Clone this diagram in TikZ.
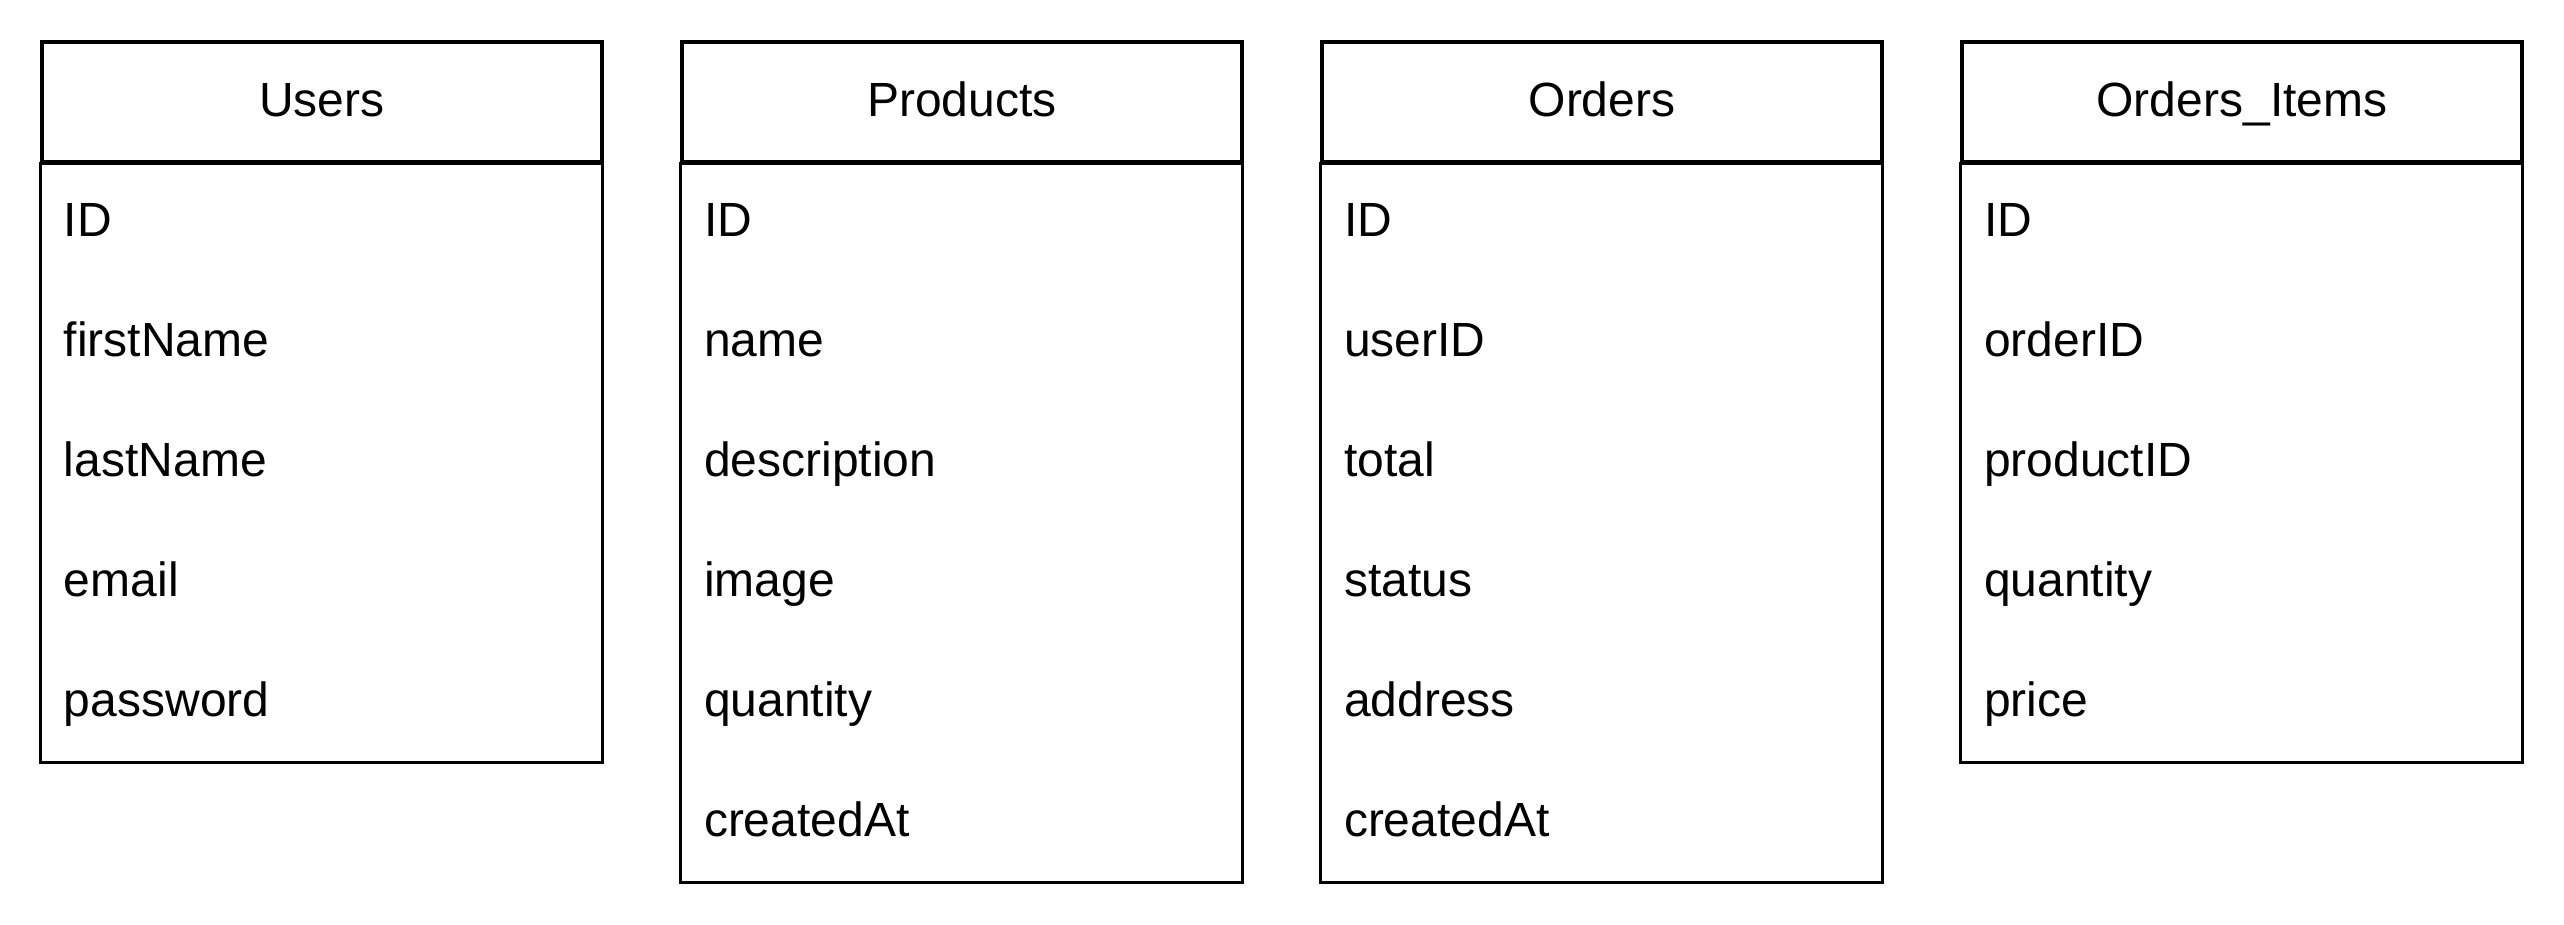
\documentclass[tikz,border=0pt]{standalone}
\usepackage{fontspec}
\setmainfont{Liberation Sans}
\usetikzlibrary{positioning}
\tikzstyle{table} = [rectangle, minimum width=140pt, minimum height=30pt, text centered, text height=7.4pt, text depth=0pt, draw=black, thick, font=\fontsize{12}{14.4}\selectfont]
\tikzstyle{field} = [rectangle, minimum width=140pt, minimum height=30pt, text width=129pt, inner xsep=5.5pt, align=left, text height=7.4pt, text depth=0pt, font=\fontsize{12}{14.4}\selectfont]
\tikzstyle{frame} = [thick, draw=black]
\begin{document}
\begin{tikzpicture}[node distance = 30pt, x=1pt, y=1pt]
        \useasboundingbox (-0.5,0.5) rectangle (640.5,-230.5);
        % table headers
        \node (users) [table] at (80,-25) {Users};
        \node (products) [table, right of = users, node distance = 160pt] {Products};
        \node (orders) [table, right of = products, node distance = 160pt] {Orders};
        \node (items) [table, right of = orders, node distance = 160pt] {Orders\_Items};

        % Users
        \node (usersId) [field, below of = users] {ID};
        \node (usersFirst) [field, below of = usersId] {firstName};
        \node (usersLast) [field, below of = usersFirst] {lastName};
        \node (usersEmail) [field, below of = usersLast] {email};
        \node (usersPass) [field, below of = usersEmail] {password};

        % Products
        \node (prodId) [field, below of = products] {ID};
        \node (prodName) [field, below of = prodId] {name};
        \node (prodDesc) [field, below of = prodName] {description};
        \node (prodImage) [field, below of = prodDesc] {image};
        \node (prodQty) [field, below of = prodImage] {quantity};
        \node (prodCreated) [field, below of = prodQty] {createdAt};

        % Orders
        \node (ordId) [field, below of = orders] {ID};
        \node (ordUser) [field, below of = ordId] {userID};
        \node (ordTotal) [field, below of = ordUser] {total};
        \node (ordStatus) [field, below of = ordTotal] {status};
        \node (ordAddress) [field, below of = ordStatus] {address};
        \node (ordCreated) [field, below of = ordAddress] {createdAt};

        % Orders_Items
        \node (itemId) [field, below of = items] {ID};
        \node (itemOrder) [field, below of = itemId] {orderID};
        \node (itemProduct) [field, below of = itemOrder] {productID};
        \node (itemQty) [field, below of = itemProduct] {quantity};
        \node (itemPrice) [field, below of = itemQty] {price};

        \draw [frame] (users.south west) rectangle (usersPass.south east);
        \draw [frame] (products.south west) rectangle (prodCreated.south east);
        \draw [frame] (orders.south west) rectangle (ordCreated.south east);
        \draw [frame] (items.south west) rectangle (itemPrice.south east);

    \end{tikzpicture}
\end{document}
